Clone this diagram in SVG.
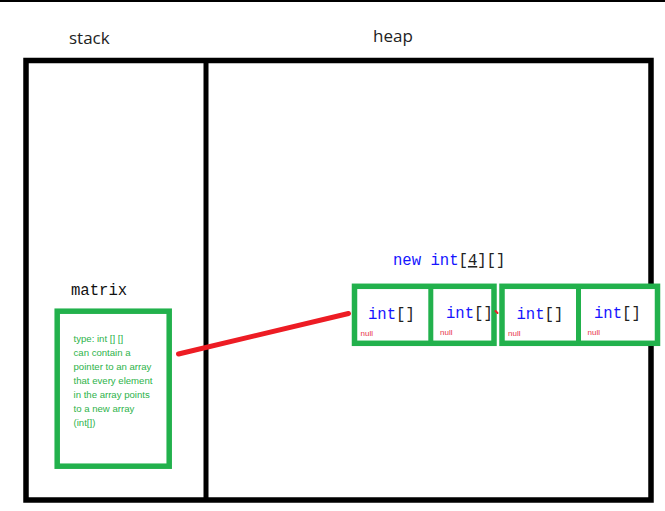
<svg xmlns="http://www.w3.org/2000/svg" width="665" height="511" viewBox="0 0 665 511">
<style>
.frame{fill:none;stroke:#000;stroke-width:5.5}
.gbox{fill:#fff;stroke:#22b14c;stroke-width:5.5}
.gdiv{stroke:#22b14c;stroke-width:5}
.lbl{font-family:"Open Sans","Liberation Sans",sans-serif;font-size:17px;fill:#222}
.mono{font-family:"Liberation Mono","DejaVu Sans Mono",monospace;font-size:15.6px}
.kw{fill:#1515ff}
.br{fill:#222}
.null{font-family:"Liberation Sans",sans-serif;font-size:8px;fill:#e8334a}
.note{font-family:"Liberation Sans",sans-serif;font-size:9.6px;fill:#2db34a}
</style>
<rect x="0" y="0" width="665" height="511" fill="#fff"/>
<rect x="0" y="0" width="665" height="2" fill="#000"/>
<g id="frame">
<rect class="frame" x="26" y="60.5" width="625" height="439.5"/>
<line x1="206" y1="60.5" x2="206" y2="500" stroke="#000" stroke-width="5"/>
<text class="lbl" x="69" y="44">stack</text>
<text class="lbl" x="373" y="42">heap</text>
</g>
<g id="matrix">
<text class="mono" x="71" y="295" fill="#111">matrix</text>
<rect class="gbox" x="57.2" y="311.2" width="112" height="155"/>
<text class="note" x="73.5" y="341.5">type: int [] []</text>
<text class="note" x="73.5" y="355.5">can contain a</text>
<text class="note" x="73.5" y="369.5">pointer to an array</text>
<text class="note" x="73.5" y="383.5">that every element</text>
<text class="note" x="73.5" y="397.5">in the array points</text>
<text class="note" x="73.5" y="411.5">to a new array</text>
<text class="note" x="73.5" y="425.5">(int[])</text>
</g>
<g id="array">
<text class="mono" x="393" y="265"><tspan class="kw">new int</tspan><tspan class="br">[</tspan><tspan class="br" text-decoration="underline">4</tspan><tspan class="br">][]</tspan></text>
<rect class="gbox" x="354.5" y="286.3" width="139.5" height="57"/>
<rect class="gbox" x="502" y="286.3" width="155.5" height="57"/>
<line class="gdiv" x1="430.8" y1="286.3" x2="430.8" y2="343.3"/>
<line class="gdiv" x1="578.5" y1="286.3" x2="578.5" y2="343.3"/>
<text class="mono" x="368" y="319"><tspan class="kw">int</tspan><tspan class="br">[]</tspan></text>
<text class="mono" x="446" y="318"><tspan class="kw">int</tspan><tspan class="br">[]</tspan></text>
<text class="mono" x="516.5" y="319"><tspan class="kw">int</tspan><tspan class="br">[]</tspan></text>
<text class="mono" x="594" y="318"><tspan class="kw">int</tspan><tspan class="br">[]</tspan></text>
<text class="null" x="360.5" y="336">null</text>
<text class="null" x="440" y="335">null</text>
<text class="null" x="508" y="336">null</text>
<text class="null" x="587.5" y="335">null</text>
</g>
<g id="connectors">
<line x1="178.5" y1="354" x2="348.5" y2="313.5" stroke="#ed1c24" stroke-width="5" stroke-linecap="round"/>
<line x1="495.5" y1="311" x2="497.5" y2="313" stroke="#ed1c24" stroke-width="2" stroke-linecap="round"/>
</g>
</svg>
